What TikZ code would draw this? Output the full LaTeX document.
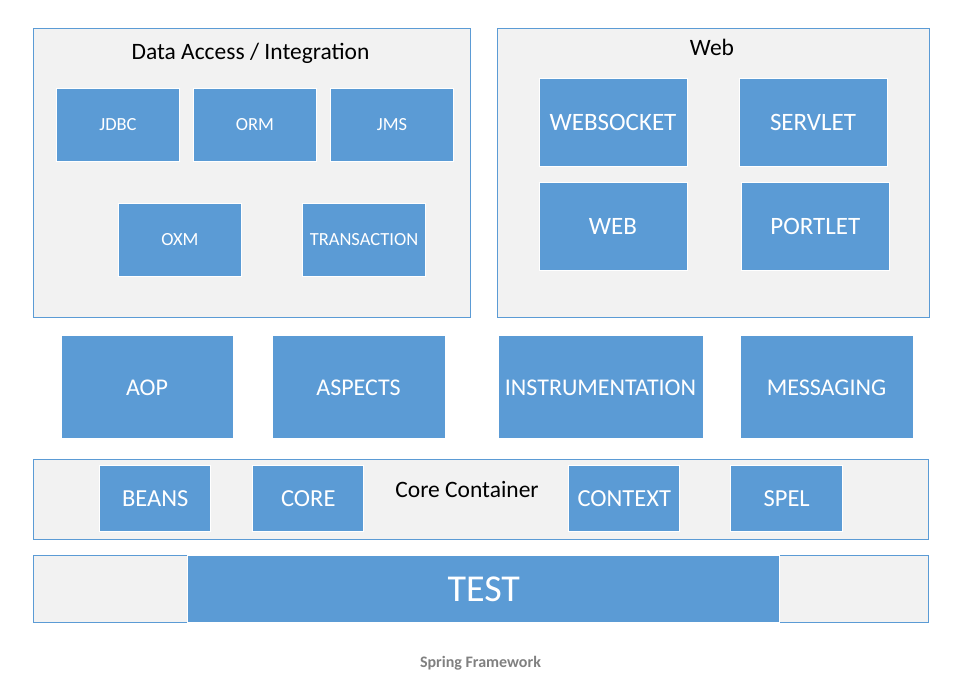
\documentclass[tikz,border=0pt]{standalone}
\usepackage{fontspec}
\setmainfont{Carlito}
\usetikzlibrary{positioning}
\definecolor{springblue}{HTML}{5B9BD5}
\definecolor{framegray}{HTML}{F2F2F2}
\definecolor{captiongray}{HTML}{808080}
\tikzset{
    frame/.style={rectangle, draw=springblue, fill=framegray, line width=1pt, inner sep=0pt},
    module/.style={rectangle, draw=white, fill=springblue, text=white, line width=1pt, inner sep=0pt, align=center},
    title/.style={anchor=base, text=black, inner sep=0pt, font=\fontsize{23.5}{27}\selectfont}
}

\begin{document}
\begin{tikzpicture}[x=1pt, y=-1pt, node distance=137pt]
    \useasboundingbox (0,0) rectangle (974,681);
    % frames
    \node [frame, minimum width=437pt, minimum height=289pt] (dataframe) at (251.5,172.5) {};
    \node [frame, minimum width=432pt, minimum height=289pt] (webframe) at (713,172.5) {};
    \node [frame, minimum width=895pt, minimum height=80pt] (coreframe) at (480.8,499.3) {};
    \node [frame, minimum width=895pt, minimum height=67pt] (testframe) at (480.8,588.8) {};
    \node [title] (datatitle) at (250.5,59.5) {Data Access / Integration};
    \node [title] (webtitle) at (712,55) {Web};
    \node [title] (coretitle) at (467,497) {Core Container};

    % data access / integration
    \node [module, minimum width=123pt, minimum height=73pt, font=\fontsize{18.5}{22}\selectfont] (jdbc) at (118,125) {JDBC};
    \node [module, minimum width=123pt, minimum height=73pt, font=\fontsize{18.5}{22}\selectfont, right of=jdbc] (orm) {ORM};
    \node [module, minimum width=123pt, minimum height=73pt, font=\fontsize{18.5}{22}\selectfont, right of=orm] (jms) {JMS};
    \node [module, minimum width=123pt, minimum height=73pt, font=\fontsize{18.5}{22}\selectfont] (oxm) at (180,240) {OXM};
    \node [module, minimum width=123pt, minimum height=73pt, font=\fontsize{18.5}{22}\selectfont, right of=oxm, node distance=184pt] (transaction) {TRANSACTION};

    % web
    \node [module, minimum width=148pt, minimum height=88pt, font=\fontsize{25}{29}\selectfont] (websocket) at (613,122.7) {WEBSOCKET};
    \node [module, minimum width=148pt, minimum height=88pt, font=\fontsize{25}{29}\selectfont, right of=websocket, node distance=200pt] (servlet) {SERVLET};
    \node [module, minimum width=148pt, minimum height=88pt, font=\fontsize{25}{29}\selectfont, below of=websocket, node distance=104pt] (web) {WEB};
    \node [module, minimum width=148pt, minimum height=88pt, font=\fontsize{25}{29}\selectfont] (portlet) at (815.3,226.7) {PORTLET};

    % middle row
    \node [module, minimum width=172pt, minimum height=103pt, font=\fontsize{24}{28}\selectfont] (aop) at (147,387.3) {AOP};
    \node [module, minimum width=173pt, minimum height=103pt, font=\fontsize{24}{28}\selectfont] (aspects) at (358.5,387.3) {ASPECTS};
    \node [module, minimum width=205pt, minimum height=103pt, font=\fontsize{24}{28}\selectfont] (instrumentation) at (600.5,387.3) {INSTRUMENTATION};
    \node [module, minimum width=173pt, minimum height=103pt, font=\fontsize{24}{28}\selectfont] (messaging) at (826.5,387.3) {MESSAGING};

    % core container
    \node [module, minimum width=111pt, minimum height=66pt, font=\fontsize{24.5}{28}\selectfont] (beans) at (155.3,498.8) {BEANS};
    \node [module, minimum width=111pt, minimum height=66pt, font=\fontsize{24.5}{28}\selectfont] (core) at (308.3,498.8) {CORE};
    \node [module, minimum width=111pt, minimum height=66pt, font=\fontsize{24.5}{28}\selectfont] (context) at (624.3,498.8) {CONTEXT};
    \node [module, minimum width=112pt, minimum height=66pt, font=\fontsize{24.5}{28}\selectfont] (spel) at (786.7,498.8) {SPEL};

    % test
    \node [module, minimum width=592pt, minimum height=66.5pt, font=\fontsize{38}{43}\selectfont] (test) at (483.8,588.8) {TEST};

    \node [anchor=base, text=captiongray, font=\fontsize{16}{19}\selectfont\bfseries] (caption) at (480.5,667.3) {Spring Framework};
\end{tikzpicture}
\end{document}
